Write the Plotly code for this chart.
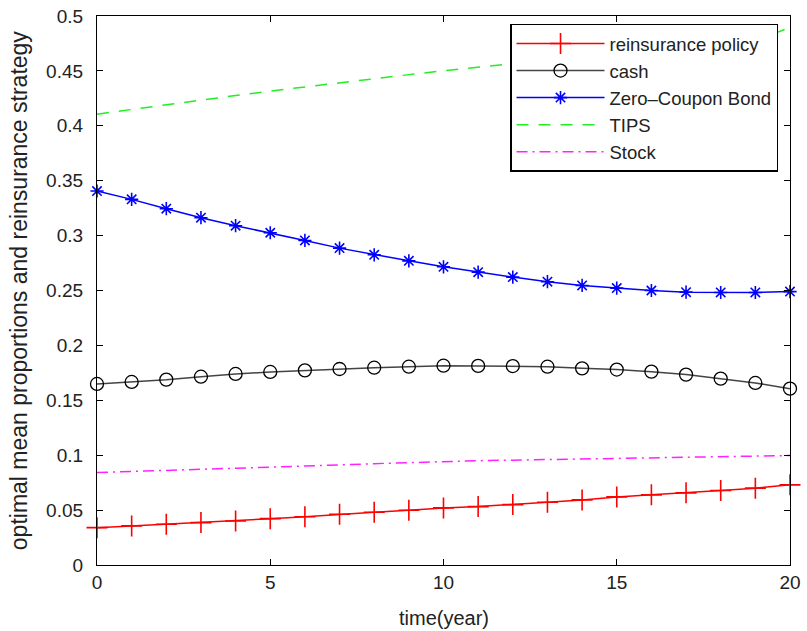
import plotly.graph_objects as go

years = list(range(21))

reinsurance = [0.0340, 0.0356, 0.0371, 0.0386, 0.0401, 0.0422, 0.0440, 0.0462, 0.0480, 0.0499,
               0.0520, 0.0532, 0.0550, 0.0572, 0.0593, 0.0620, 0.0639, 0.0657, 0.0678, 0.0700, 0.0730]
cash = [0.1649, 0.1667, 0.1688, 0.1715, 0.1740, 0.1758, 0.1773, 0.1785, 0.1797, 0.1806,
        0.1815, 0.1813, 0.1812, 0.1806, 0.1791, 0.1780, 0.1761, 0.1734, 0.1697, 0.1658, 0.1606]
bond = [0.3406, 0.3330, 0.3245, 0.3163, 0.3090, 0.3026, 0.2956, 0.2886, 0.2825, 0.2770,
        0.2716, 0.2667, 0.2622, 0.2580, 0.2546, 0.2522, 0.2500, 0.2485, 0.2482, 0.2482, 0.2490]
tips = [0.4106, 0.4150, 0.4193, 0.4235, 0.4276, 0.4316, 0.4355, 0.4393, 0.4430, 0.4466,
        0.4501, 0.4535, 0.4568, 0.4600, 0.4631, 0.4661, 0.4690, 0.4718, 0.4745, 0.4771, 0.4897]
stock = [0.0842, 0.0851, 0.0860, 0.0870, 0.0879, 0.0888, 0.0900, 0.0911, 0.0923, 0.0934,
         0.0944, 0.0950, 0.0955, 0.0960, 0.0965, 0.0970, 0.0975, 0.0981, 0.0986, 0.0992, 0.0997]

x_ticks = [0, 5, 10, 15, 20]
y_ticks = [0, 0.05, 0.1, 0.15, 0.2, 0.25, 0.3, 0.35, 0.4, 0.45, 0.5]
y_tick_labels = ["0", "0.05", "0.1", "0.15", "0.2", "0.25", "0.3", "0.35", "0.4", "0.45", "0.5"]
x_title = "time(year)"
y_title = "optimal mean proportions and reinsurance strategy"

FONT = "Liberation Sans, Arial, Helvetica"

fig = go.Figure()
fig.add_trace(go.Scatter(x=years, y=reinsurance, mode="lines+markers", name="reinsurance policy",
                         cliponaxis=False,
                         line=dict(color="#ff0000", width=1.5),
                         marker=dict(symbol="cross-thin", size=15, line=dict(color="#ff0000", width=1.6))))
fig.add_trace(go.Scatter(x=years, y=cash, mode="lines+markers", name="cash",
                         cliponaxis=False,
                         line=dict(color="#444444", width=1.5),
                         marker=dict(symbol="circle-open", size=13, color="#000000", line=dict(width=1.3))))
fig.add_trace(go.Scatter(x=years, y=bond, mode="lines+markers", name="Zero\u2013Coupon Bond",
                         cliponaxis=False,
                         line=dict(color="#0000ff", width=1.5),
                         marker=dict(symbol="asterisk-open", size=11, line=dict(color="#0000ff", width=1.6))))
fig.add_trace(go.Scatter(x=years, y=tips, mode="lines", name="TIPS",
                         line=dict(color="#22ee22", width=1.5, dash="12px,10px")))
fig.add_trace(go.Scatter(x=years, y=stock, mode="lines", name="Stock",
                         line=dict(color="#ff22ff", width=1.5, dash="11px,5px,2px,5px")))

axis_common = dict(showline=True, linecolor="black", linewidth=1.3, mirror="ticks",
                   ticks="inside", ticklen=6, tickcolor="black", showgrid=False, zeroline=False,
                   automargin=False,
                   tickfont=dict(family=FONT, size=19, color="#222"))

fig.update_xaxes(range=[0, 20], tickvals=x_ticks, **axis_common)
fig.update_yaxes(range=[0, 0.5], tickvals=y_ticks, ticktext=y_tick_labels, ticklabelstandoff=9,
                 **axis_common)

fig.add_annotation(text=x_title, xref="paper", yref="paper", x=0.5, y=-0.096,
                   xanchor="center", yanchor="middle", showarrow=False,
                   font=dict(family=FONT, size=20, color="#222"))
fig.add_annotation(text=y_title, xref="paper", yref="paper", x=-0.113, y=0.5,
                   xanchor="center", yanchor="middle", textangle=-90, showarrow=False,
                   font=dict(family=FONT, size=23, color="#222"))

fig.update_layout(
    width=807, height=631,
    margin=dict(l=97, r=17, t=16, b=66),
    paper_bgcolor="white", plot_bgcolor="white",
    showlegend=True,
    legend=dict(x=0.983, y=0.986, xanchor="right", yanchor="top",
                bgcolor="white", bordercolor="black", borderwidth=1.3,
                font=dict(family=FONT, size=18.5, color="#222"),
                itemwidth=88, tracegroupgap=0),
)

fig.write_html("out.html")
